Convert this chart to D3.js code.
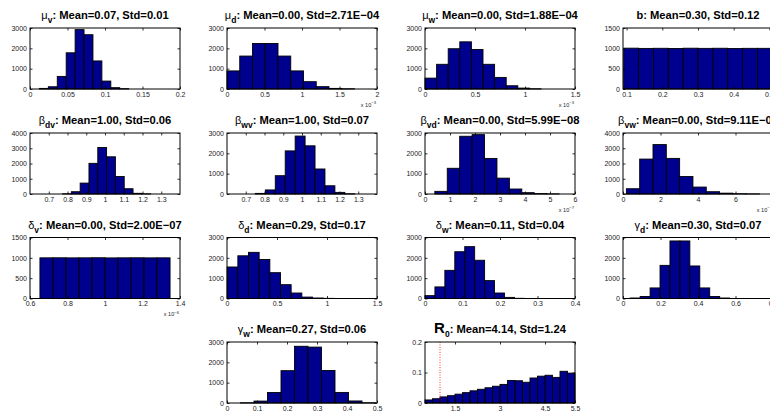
<!DOCTYPE html>
<html><head><meta charset="utf-8">
<script src="https://cdn.jsdelivr.net/npm/d3@7"></script>
<style>body{margin:0;background:#fff} svg{display:block} text{font-family:"Liberation Sans",Arial,Helvetica,sans-serif}</style>
</head><body><svg id="c" width="770" height="414"></svg>
<script>
// ---------- data ----------
const muV_x = [0.0185,0.0304,0.0423,0.0542,0.0661,0.0780,0.0899,0.1018,0.1137,0.1256];
const muV_n = [30,110,620,1780,2920,2670,1380,390,65,15];
const muD_x = [0.085,0.255,0.425,0.595,0.765,0.935,1.105,1.275,1.445,1.615];
const muD_n = [890,1620,2240,2240,1620,890,360,115,30,10];
const muW_x = [0.058,0.174,0.290,0.406,0.522,0.638,0.754,0.870,0.986,1.102];
const muW_n = [535,1215,1980,2320,1945,1215,570,160,45,10];
const b_x = [0.1128,0.1544,0.1960,0.2376,0.2792,0.3208,0.3624,0.4040,0.4456,0.4872];
const b_n = [1004,998,1001,997,1003,999,1002,996,1000,1000];
const bDV_x = [0.797,0.844,0.891,0.938,0.985,1.032,1.079,1.126,1.173,1.220];
const bDV_n = [10,150,715,2010,3050,2440,1145,345,45,8];
const bWV_x = [0.778,0.831,0.884,0.937,0.990,1.043,1.096,1.149,1.202,1.255];
const bWV_n = [30,200,900,2120,2850,2370,1230,405,80,10];
const bVD_x = [0.642,1.139,1.636,2.133,2.630,3.127,3.624,4.121,4.618,5.115];
const bVD_n = [130,1265,2840,2920,1750,780,245,65,20,5];
const bVW_x = [0.535,1.245,1.955,2.665,3.375,4.085,4.795,5.505,6.215,6.925];
const bVW_n = [345,2290,3240,2335,1145,455,150,55,15,5];
const dV_x = [0.6877,0.7571,0.8265,0.8959,0.9653,1.0347,1.1041,1.1735,1.2429,1.3123];
const dV_n = [1000,1001,999,1000,1002,998,1000,1001,999,1000];
const dD_x = [0.055,0.162,0.268,0.375,0.482,0.588,0.695,0.802,0.908,1.015];
const dD_n = [1550,2100,2270,1920,1270,680,270,70,25,8];
const dW_x = [0.0132,0.0397,0.0662,0.0927,0.1192,0.1457,0.1722,0.1987,0.2252,0.2517];
const dW_n = [140,570,1385,2300,2550,1880,880,270,55,10];
const gD_x = [0.065,0.118,0.171,0.224,0.277,0.330,0.383,0.436,0.489,0.542];
const gD_n = [25,100,520,1630,2830,2830,1600,520,100,25];
const gW_x = [0.0675,0.1125,0.1575,0.2025,0.2475,0.2925,0.3375,0.3825,0.4275,0.4725];
const gW_n = [10,95,515,1590,2790,2750,1600,520,100,10];
const R0_x = [0.625,0.875,1.125,1.375,1.625,1.875,2.125,2.375,2.625,2.875,3.125,3.375,3.625,3.875,4.125,4.375,4.625,4.875,5.125,5.375];
const R0_p = [0.010,0.014,0.020,0.024,0.029,0.034,0.040,0.045,0.050,0.055,0.061,0.074,0.073,0.068,0.082,0.088,0.091,0.084,0.104,0.098];

const xt_mu_v = [0,0.05,0.1,0.15,0.2];
const xt_mu_d = [0,0.5,1,1.5,2];
const xt_mu_w = [0,0.5,1,1.5];
const xt_b = [0.1,0.2,0.3,0.4,0.5];
const xt_beta = [0.7,0.8,0.9,1,1.1,1.2,1.3];
const xt_bvd = [0,1,2,3,4,5,6];
const xt_bvw = [0,2,4,6,8];
const xt_dv = [0.6,0.8,1,1.2,1.4];
const xt_dd = [0,0.5,1,1.5];
const xt_dw = [0,0.1,0.2,0.3,0.4];
const xt_gd = [0,0.2,0.4,0.6,0.8];
const xt_gw = [0,0.1,0.2,0.3,0.4,0.5];
const xt_R0 = [1.5,3,4.5,5.5];
const yt_3000 = [0,1000,2000,3000];
const yt_4000 = [0,1000,2000,3000,4000];
const yt_1500 = [0,500,1000,1500];
const yt_R0 = [0,0.1,0.2];

// ---------- layout ----------
const cols = [30,227,425,623], rows = [28,133,237.5,342], W = 150, H = 61;
const panels = [
 {c:0,r:0,xs:muV_x,ns:muV_n,xd:[0,0.2],yd:[0,3000],xt:xt_mu_v,yt:yt_3000,sym:"μ",sub:"v",t:":  Mean=0.07, Std=0.01"},
 {c:1,r:0,xs:muD_x,ns:muD_n,xd:[0,2],yd:[0,3000],xt:xt_mu_d,yt:yt_3000,sym:"μ",sub:"d",t:":  Mean=0.00, Std=2.71E−04",ex:"−3"},
 {c:2,r:0,xs:muW_x,ns:muW_n,xd:[0,1.5],yd:[0,3000],xt:xt_mu_w,yt:yt_3000,sym:"μ",sub:"w",t:":  Mean=0.00, Std=1.88E−04",ex:"−3"},
 {c:3,r:0,xs:b_x,ns:b_n,xd:[0.09,0.51],yd:[0,1500],xt:xt_b,yt:yt_1500,sym:"b",bold:true,sub:"",t:":  Mean=0.30, Std=0.12"},
 {c:0,r:1,xs:bDV_x,ns:bDV_n,xd:[0.6,1.4],yd:[0,4000],xt:xt_beta,yt:yt_4000,sym:"β",sub:"dv",t:":  Mean=1.00, Std=0.06"},
 {c:1,r:1,xs:bWV_x,ns:bWV_n,xd:[0.6,1.4],yd:[0,3000],xt:xt_beta,yt:yt_3000,sym:"β",sub:"wv",t:":  Mean=1.00, Std=0.07"},
 {c:2,r:1,xs:bVD_x,ns:bVD_n,xd:[0,6],yd:[0,3000],xt:xt_bvd,yt:yt_3000,sym:"β",sub:"vd",t:":  Mean=0.00, Std=5.99E−08",ex:"−7"},
 {c:3,r:1,xs:bVW_x,ns:bVW_n,xd:[0,8],yd:[0,4000],xt:xt_bvw,yt:yt_4000,sym:"β",sub:"vw",t:":  Mean=0.00, Std=9.11E−08",ex:"−7"},
 {c:0,r:2,xs:dV_x,ns:dV_n,xd:[0.6,1.4],yd:[0,1500],xt:xt_dv,yt:yt_1500,sym:"δ",sub:"v",t:":  Mean=0.00, Std=2.00E−07",ex:"−6"},
 {c:1,r:2,xs:dD_x,ns:dD_n,xd:[0,1.5],yd:[0,3000],xt:xt_dd,yt:yt_3000,sym:"δ",sub:"d",t:":  Mean=0.29, Std=0.17"},
 {c:2,r:2,xs:dW_x,ns:dW_n,xd:[0,0.4],yd:[0,3000],xt:xt_dw,yt:yt_3000,sym:"δ",sub:"w",t:":  Mean=0.11, Std=0.04"},
 {c:3,r:2,xs:gD_x,ns:gD_n,xd:[0,0.8],yd:[0,3000],xt:xt_gd,yt:yt_3000,sym:"γ",sub:"d",t:":  Mean=0.30, Std=0.07"},
 {c:1,r:3,xs:gW_x,ns:gW_n,xd:[0,0.5],yd:[0,3000],xt:xt_gw,yt:yt_3000,sym:"γ",sub:"w",t:":  Mean=0.27, Std=0.06"},
 {c:2,r:3,xs:R0_x,ns:R0_p,xd:[0.5,5.5],yd:[0,0.2],xt:xt_R0,yt:yt_R0,sym:"R",bold:true,big:true,sub:"0",t:":  Mean=4.14, Std=1.24",vline:1}
];

const svg = d3.select("#c");
const fmt = v => String(+v.toFixed(4));

panels.forEach(p => {
  const g = svg.append("g").attr("transform", `translate(${cols[p.c]},${rows[p.r]})`);
  const x = d3.scaleLinear().domain(p.xd).range([0, W]);
  const y = d3.scaleLinear().domain(p.yd).range([H, 0]);
  const bw = p.xs[1] - p.xs[0];
  g.selectAll("rect.bar").data(p.xs.map((c,i)=>({c, n:p.ns[i]}))).enter().append("rect")
    .attr("class","bar")
    .attr("x", d => x(d.c - bw/2))
    .attr("width", d => x(d.c + bw/2) - x(d.c - bw/2))
    .attr("y", d => y(d.n))
    .attr("height", d => H - y(d.n))
    .attr("fill", "#00008f").attr("stroke", "#000").attr("stroke-width", 0.9);
  if (p.vline !== undefined) {
    g.append("line").attr("x1", x(p.vline)).attr("x2", x(p.vline)).attr("y1", 0).attr("y2", H)
      .attr("stroke", "#f00").attr("stroke-width", 0.8).attr("stroke-dasharray", "1,1.5");
  }
  // axes (ticks inside)
  const ax = (a) => a.tickSizeOuter(0);
  g.append("g").attr("transform", `translate(0,${H})`)
    .call(ax(d3.axisBottom(x).tickValues(p.xt).tickFormat(fmt).tickSizeInner(-2.5).tickPadding(3)));
  g.append("g").call(ax(d3.axisTop(x).tickValues(p.xt).tickFormat("").tickSizeInner(-2.5)));
  g.append("g")
    .call(ax(d3.axisLeft(y).tickValues(p.yt).tickFormat(fmt).tickSizeInner(-2.5).tickPadding(3)));
  g.append("g").attr("transform", `translate(${W},0)`)
    .call(ax(d3.axisRight(y).tickValues(p.yt).tickFormat("").tickSizeInner(-2.5)));
  g.selectAll(".domain").remove();
  g.selectAll(".tick line").attr("stroke", "#000").attr("stroke-width", 0.8);
  g.selectAll(".tick text").attr("font-size", 7).attr("fill", "#222")
    .style("font-family", '"Liberation Sans",Arial,sans-serif');
  g.append("rect").attr("x",0).attr("y",0).attr("width",W).attr("height",H)
    .attr("fill","none").attr("stroke","#000").attr("stroke-width",1);
  if (p.ex) {
    const e = g.append("text").attr("x", W - 1).attr("y", H + 17.5).attr("text-anchor", "end")
      .attr("font-size", 5.5).attr("fill", "#222");
    e.append("tspan").text("x 10");
    e.append("tspan").attr("dy", -2.5).attr("font-size", 4.2).text(p.ex);
  }
  // title
  const t = g.append("text").attr("x", W/2).attr("y", -9).attr("text-anchor", "middle")
    .attr("font-size", 11.2).attr("font-weight", "bold").attr("fill", "#000");
  t.append("tspan").attr("font-weight", p.bold ? "bold" : "normal")
    .attr("font-size", p.big ? 15 : 11).text(p.sym);
  if (p.sub) t.append("tspan").attr("dy", 4).attr("font-size", 8.5).text(p.sub);
  t.append("tspan").attr("dy", p.sub ? -4 : 0).text(p.t);
});
</script></body></html>
